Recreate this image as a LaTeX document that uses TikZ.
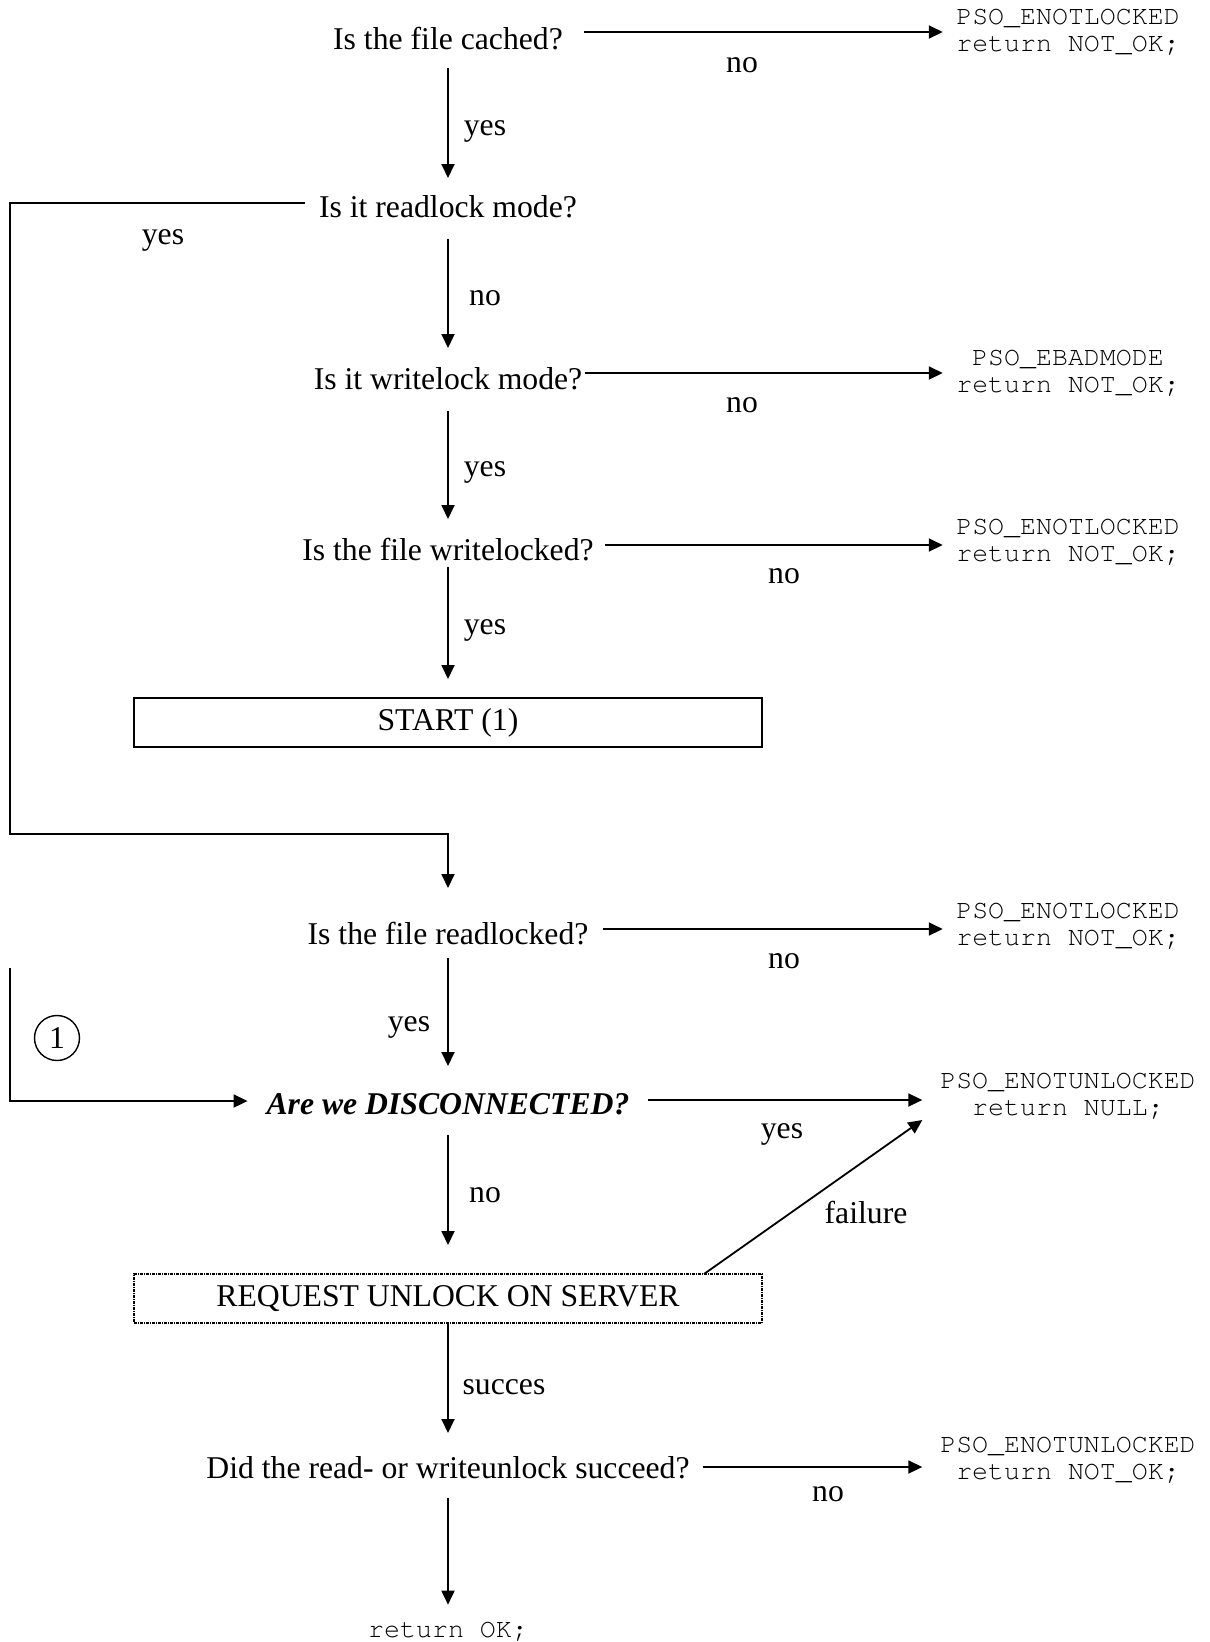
\documentclass[tikz,border=0pt]{standalone}
\usepackage{fontspec}
\setmainfont{Liberation Serif}
\newfontfamily\codefont{TeX Gyre Cursor}
\usetikzlibrary{arrows.meta}

\begin{document}
\begin{tikzpicture}[x=1pt,y=-1pt,
  every node/.style={inner sep=0pt, outer sep=0pt},
  txt/.style={font=\fontsize{31.7}{36}\selectfont},
  question/.style={txt, text height=21pt, text depth=6pt, anchor=base},
  lbl/.style={txt},
  code/.style={font=\codefont\fontsize{26.6}{27}\selectfont, align=center, inner xsep=13.5pt},
  flow/.style={line width=1.8pt, -{Triangle[length=14pt,width=13pt]}},
  stepbox/.style={draw, line width=2pt, minimum width=628pt, minimum height=49pt, txt},
  dotbox/.style={draw, line width=1.1pt, dash pattern=on 3pt off 1pt on 1pt off 1pt,
                 minimum width=628pt, minimum height=49pt, txt},
]
\useasboundingbox (0,0) rectangle (1210,1642);

% questions and process boxes
\node[question] (q1) at (448,49)   {Is the file cached?};
\node[question] (q2) at (448,217)  {Is it readlock mode?};
\node[question] (q3) at (448,389)  {Is it writelock mode?};
\node[question] (q4) at (448,560)  {Is the file writelocked?};
\node[stepbox]  (st) at (448,722.5) {START (1)};
\node[question] (q5) at (448,944)  {Is the file readlocked?};
\node[question] (q6) at (448,1114) {\textbf{\textit{Are we DISCONNECTED?}}};
\node[dotbox]   (rq) at (448,1298.5) {REQUEST UNLOCK ON SERVER};
\node[question] (q7) at (448,1478) {Did the read- or writeunlock succeed?};
\node[font=\codefont\fontsize{26.6}{27}\selectfont, anchor=base] (ok) at (448,1637) {return OK;};

% error results
\node[code] (e1) at (1068,32)   {PSO\_ENOTLOCKED\\return NOT\_OK;};
\node[code] (e3) at (1068,373)  {PSO\_EBADMODE\\return NOT\_OK;};
\node[code] (e4) at (1068,542)  {PSO\_ENOTLOCKED\\return NOT\_OK;};
\node[code] (e5) at (1068,926)  {PSO\_ENOTLOCKED\\return NOT\_OK;};
\node[code, inner xsep=18pt] (e6) at (1068,1096) {PSO\_ENOTUNLOCKED\\return NULL;};
\node[code, inner xsep=18pt] (e7) at (1068,1460) {PSO\_ENOTUNLOCKED\\return NOT\_OK;};

% connector marker
\node[draw, circle, line width=1.4pt, minimum size=45pt, txt] (c1) at (57,1038) {1};
\coordinate (lp1) at (10,834);
\coordinate (lp2) at (10,968);

% main vertical flow
\draw[flow] ([yshift=-13pt]q1.south) -- ([yshift=18pt]q2.north);
\draw[flow] ([yshift=-16pt]q2.south) -- ([yshift=20pt]q3.north);
\draw[flow] ([yshift=-16pt]q3.south) -- ([yshift=20pt]q4.north);
\draw[flow] ([yshift=-1pt]q4.south) -- ([yshift=19pt]st.north);
\draw[flow] ([yshift=-8pt]q5.south) -- ([yshift=27pt]q6.north);
\draw[flow] ([yshift=-15pt]q6.south) -- ([yshift=29pt]rq.north);
\draw[flow] (rq.south) -- ([yshift=24pt]q7.north);
\draw[flow] ([yshift=-14pt]q7.south) -- ([yshift=17pt]ok.north);

% branches to the error results
\draw[flow] ([xshift=21pt,yshift=9.5pt]q1.east) -- ([yshift=9.5pt]q1.east -| e1.west);
\draw[flow] ([xshift=3pt,yshift=8.5pt]q3.east) -- ([yshift=8.5pt]q3.east -| e3.west);
\draw[flow] ([xshift=11pt,yshift=7.5pt]q4.east) -- ([yshift=7.5pt]q4.east -| e4.west);
\draw[flow] ([xshift=15pt,yshift=7.5pt]q5.east) -- ([yshift=7.5pt]q5.east -| e5.west);
\draw[flow] ([xshift=19pt,yshift=6.5pt]q6.east) -- ([yshift=6.5pt]q6.east -| e6.west);
\draw[flow] ([xshift=256pt]rq.north) -- ([yshift=-24pt]e6.west);
\draw[flow] ([xshift=13pt,yshift=3.5pt]q7.east) -- ([yshift=3.5pt]q7.east -| e7.west);

% readlock branch and the return path from (1)
\draw[flow] ([xshift=-14.5pt,yshift=6.5pt]q2.west) -| (lp1) -| ([yshift=35pt]q5.north);
\draw[flow] (lp2) |- ([xshift=-19pt,yshift=5.5pt]q6.west);

% connector labels
\node[lbl] (n1)  at (742,65.5)   {no};
\node[lbl] (y1)  at (485,131.5)  {yes};
\node[lbl] (y2)  at (163,240.5)  {yes};
\node[lbl] (n2)  at (485,298.5)  {no};
\node[lbl] (n3)  at (742,405.5)  {no};
\node[lbl] (y3)  at (485,472.5)  {yes};
\node[lbl] (n4)  at (784,576.5)  {no};
\node[lbl] (y4)  at (485,630.5)  {yes};
\node[lbl] (n5)  at (784,961.5)  {no};
\node[lbl] (y5)  at (409,1027.5) {yes};
\node[lbl] (y6)  at (782,1134.5) {yes};
\node[lbl] (n6)  at (485,1195.5) {no};
\node[lbl] (fl)  at (866,1212)   {failure};
\node[lbl] (sc)  at (504,1387)   {succes};
\node[lbl] (n7)  at (828,1494.5) {no};
\end{tikzpicture}
\end{document}
